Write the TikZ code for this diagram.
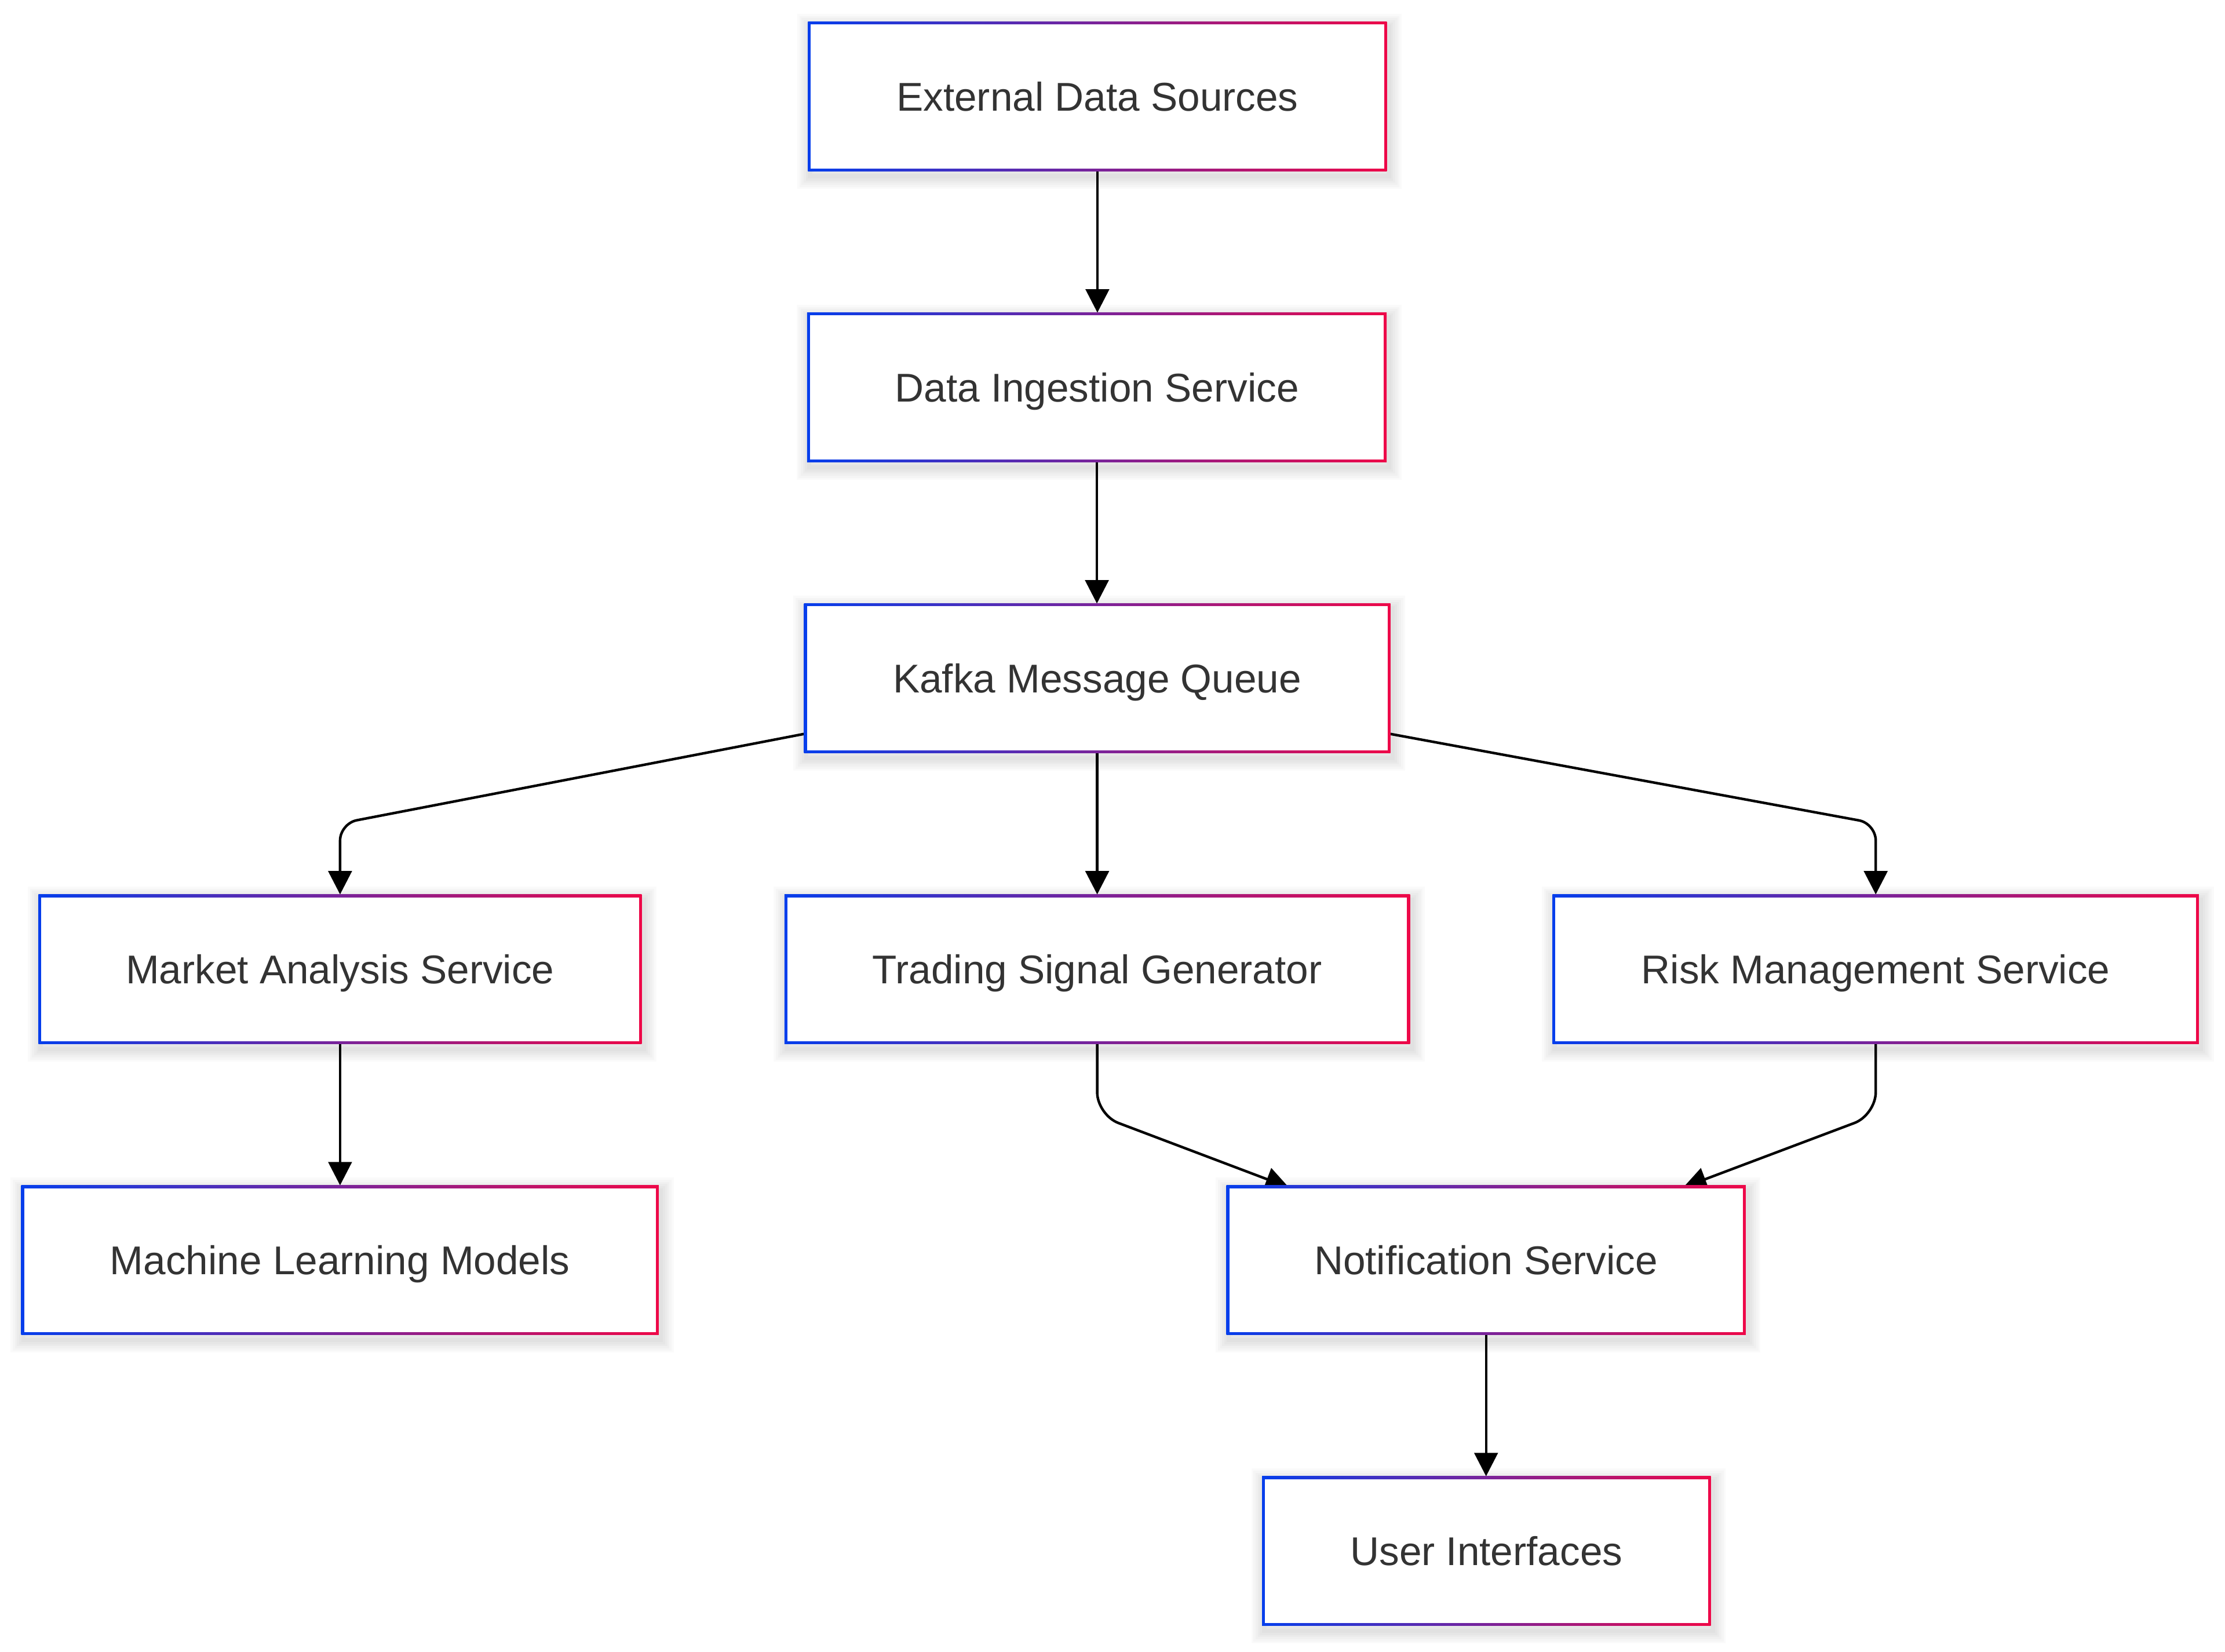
\documentclass[tikz,border=0pt]{standalone}
\usepackage{fontspec}
\setmainfont{Liberation Sans}
\usetikzlibrary{arrows.meta}
\definecolor{cb}{RGB}{5,62,236}
\definecolor{cr}{RGB}{238,8,72}
\definecolor{txt}{HTML}{333333}
\pgfdeclarelayer{bg}
\pgfdeclarelayer{edges}
\pgfdeclarelayer{boxes}
\pgfsetlayers{bg,edges,boxes,main}
\newcommand\boxbg[1]{%
  \begin{pgfonlayer}{boxes}
    \foreach \w in {18,15,12,9,6,3}{%
      \draw[line width=\w pt, draw=black, draw opacity=0.018]
        ([shift={(1.5pt,-3.5pt)}]#1.south west) rectangle ([shift={(1.5pt,-3.5pt)}]#1.north east);}
    \shade[left color=cb, right color=cr] (#1.south west) rectangle (#1.north east);
    \fill[white] ([shift={(2pt,2pt)}]#1.south west) rectangle ([shift={(-2pt,-2pt)}]#1.north east);
  \end{pgfonlayer}}
\tikzset{
  box/.style={minimum height=105pt, inner sep=0pt, text=txt,
    font=\fontsize{28.3pt}{34pt}\selectfont, text height=20.3pt, text depth=0pt},
  arr/.style={draw=black, line width=1.8pt, -{Triangle[length=16.5pt,width=16.5pt]}}
}
\begin{document}
\begin{tikzpicture}[x=1pt,y=-1pt]
\begin{pgfonlayer}{bg}
  \fill[white] (0,0) rectangle (1568,1164);
\end{pgfonlayer}
\useasboundingbox (0,0) rectangle (1568,1164);

\node[box, minimum width=407.5pt] (eds) at (773.35,68) {External Data Sources};
\node[box, minimum width=408pt] (dis) at (773,273) {Data Ingestion Service};
\node[box, minimum width=412.8pt] (kafka) at (773.2,478) {Kafka Message Queue};
\node[box, minimum width=424.7pt] (market) at (239.65,683) {Market Analysis Service};
\node[box, minimum width=440.4pt] (trading) at (773.2,683) {Trading Signal Generator};
\node[box, minimum width=455.1pt] (risk) at (1321.85,683) {Risk Management Service};
\node[box, minimum width=448.8pt] (ml) at (239.6,888) {Machine Learning Models};
\node[box, minimum width=365.5pt] (notif) at (1047.25,888) {Notification Service};
\node[box, minimum width=315.8pt] (ui) at (1047.5,1093) {User Interfaces};

\boxbg{eds}\boxbg{dis}\boxbg{kafka}\boxbg{market}\boxbg{trading}
\boxbg{risk}\boxbg{ml}\boxbg{notif}\boxbg{ui}

\begin{pgfonlayer}{edges}
\draw[arr] (eds.south) -- (eds.south |- dis.north);
\draw[arr] (dis.south) -- (dis.south |- kafka.north);
\draw[arr] (kafka.south) -- (kafka.south |- trading.north);
\draw[arr, rounded corners=12pt] ([yshift=13.5pt]kafka.south west) -- ([yshift=50pt]market.north) -- (market.north);
\draw[arr, rounded corners=12pt] ([yshift=13.5pt]kafka.south east) -- ([yshift=50pt]risk.north) -- (risk.north);
\draw[arr] (market.south) -- (market.south |- ml.north);
\draw[arr, rounded corners=16pt] (trading.south) -- ([yshift=-50pt]trading.south) -- ([xshift=44pt,yshift=-1.5pt]notif.north west);
\draw[arr, rounded corners=16pt] (risk.south) -- ([yshift=-50pt]risk.south) -- ([xshift=-44pt,yshift=-1.5pt]notif.north east);
\draw[arr] (notif.south) -- (notif.south |- ui.north);
\end{pgfonlayer}
\end{tikzpicture}
\end{document}
